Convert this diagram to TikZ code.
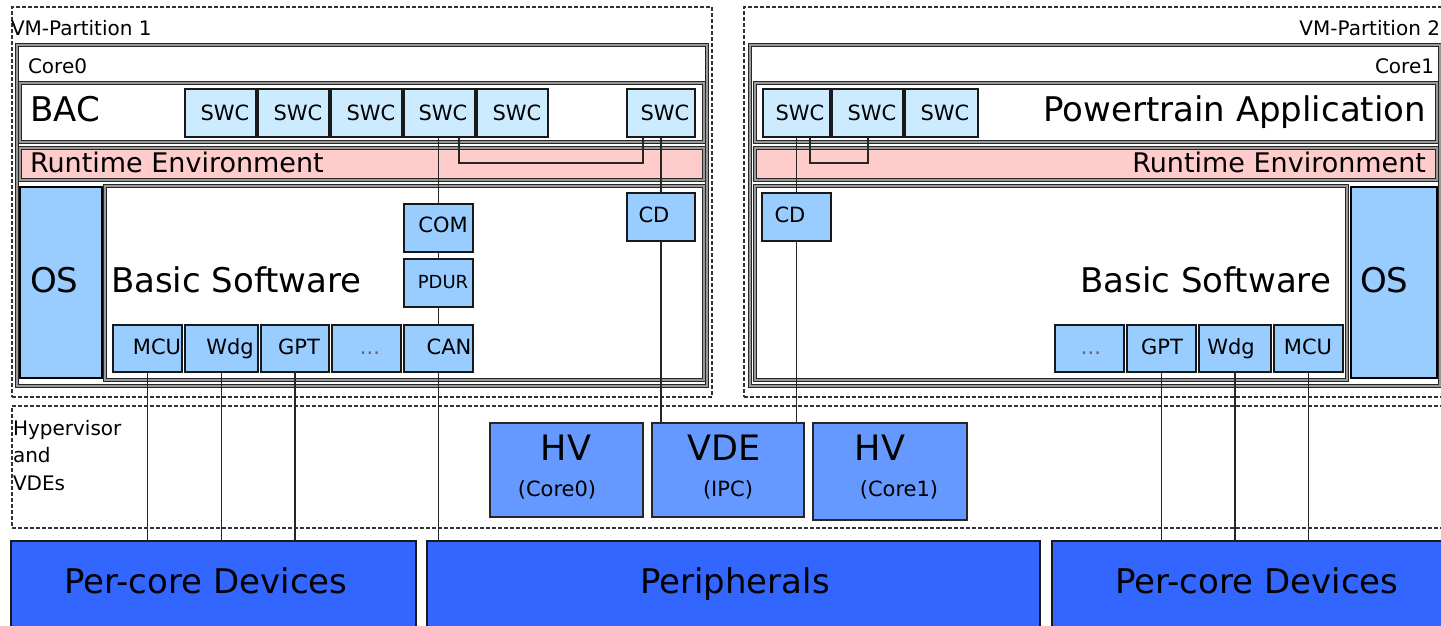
\documentclass[tikz,border=0pt]{standalone}
\usepackage{fontspec}
\setmainfont{DejaVu Sans}
\usetikzlibrary{fit,calc}

\definecolor{swcblue}{HTML}{CCEBFF}
\definecolor{bswblue}{HTML}{99CCFF}
\definecolor{hvblue}{HTML}{6699FF}
\definecolor{devblue}{HTML}{3366FF}
\definecolor{rtepink}{HTML}{FFCCCC}

\tikzset{
  every node/.style={inner sep=0pt, outer sep=0pt},
  partframe/.style={draw=black!80, line width=1pt, dash pattern=on 2pt off 1pt},
  ctr/.style={draw=black!85, line width=0.55pt, double=black!40, double distance=0.55pt, fill=white},
  rtebar/.style={ctr, fill=rtepink},
  swcbox/.style={draw=black!90, line width=1pt, fill=swcblue},
  bswbox/.style={draw=black!90, line width=1pt, fill=bswblue},
  osbox/.style={draw=black, line width=1.3pt, fill=bswblue},
  hvbox/.style={draw=black!85, line width=1pt, fill=hvblue},
  devbox/.style={draw=black!90, line width=0.8pt, fill=devblue},
  wire/.style={draw=black!85, line width=0.95pt},
  t-part/.style={font=\fontsize{10pt}{12pt}\selectfont},
  t-sm/.style={font=\fontsize{10.5pt}{12pt}\selectfont},
  t-pdur/.style={font=\fontsize{9pt}{11pt}\selectfont},
  t-rte/.style={font=\fontsize{13.5pt}{16pt}\selectfont},
  t-big/.style={font=\fontsize{17pt}{20pt}\selectfont},
  t-hv/.style={font=\fontsize{17.5pt}{20pt}\selectfont},
}

\begin{document}
\begin{tikzpicture}[x=0.5pt, y=-0.5pt]
\useasboundingbox (0,0) rectangle (1441,626);
\clip (0,0) rectangle (1441,626);
\fill[white] (0,0) rectangle (1441,626);

% ---------- partitions and hypervisor layer ----------
\node[partframe, fit={(12,7) (712,397)}] (vm1) {};
\node[partframe, fit={(744,7) (1450,397)}] (vm2) {};
\node[partframe, fit={(12,406) (1450,528)}] (hyp) {};

% ---------- core 0 ----------
\node[ctr, fit={(17,45) (707,386)}] (core0) {};
\node[ctr, fit={(20,83) (704,142)}] (bac) {};
\node[rtebar, fit={(20,148) (704,180)}] (rteL) {};
\node[ctr, fit={(105,186) (704,380)}] (bswL) {};
\node[osbox, fit={(20,187) (102,378)}] (osL) {};

\node[swcbox, fit={(185,89) (256,137)}] (swcL1) {};
\node[swcbox, fit={(258,89) (329,137)}] (swcL2) {};
\node[swcbox, fit={(331,89) (402,137)}] (swcL3) {};
\node[swcbox, fit={(404,89) (475,137)}] (swcL4) {};
\node[swcbox, fit={(477,89) (548,137)}] (swcL5) {};
\node[swcbox, fit={(627,89) (695,137)}] (swcL6) {};

\node[bswbox, fit={(404,204) (473,252)}] (comL) {};
\node[bswbox, fit={(404,259) (473,307)}] (pdurL) {};
\node[bswbox, fit={(627,193) (695,241)}] (cdL) {};
\node[bswbox, fit={(113,325) (182,372)}] (mcuL) {};
\node[bswbox, fit={(185,325) (258,372)}] (wdgL) {};
\node[bswbox, fit={(261,325) (329,372)}] (gptL) {};
\node[bswbox, fit={(332,325) (401,372)}] (dotsL) {};
\node[bswbox, fit={(404,325) (473,372)}] (canL) {};

% ---------- core 1 ----------
\node[ctr, fit={(750,45) (1440,386)}] (core1) {};
\node[ctr, fit={(755,83) (1437,142)}] (ptapp) {};
\node[rtebar, fit={(755,148) (1437,180)}] (rteR) {};
\node[ctr, fit={(755,186) (1347,380)}] (bswR) {};
\node[osbox, fit={(1351,187) (1437,378)}] (osR) {};

\node[swcbox, fit={(763,89) (830,137)}] (swcR1) {};
\node[swcbox, fit={(832,89) (903,137)}] (swcR2) {};
\node[swcbox, fit={(905,89) (978,137)}] (swcR3) {};

\node[bswbox, fit={(762,193) (831,241)}] (cdR) {};
\node[bswbox, fit={(1055,325) (1124,372)}] (dotsR) {};
\node[bswbox, fit={(1127,325) (1196,372)}] (gptR) {};
\node[bswbox, fit={(1199,325) (1271,372)}] (wdgR) {};
\node[bswbox, fit={(1274,325) (1343,372)}] (mcuR) {};

% ---------- hypervisor and devices ----------
\node[hvbox, fit={(490,423) (643,517)}] (hv0) {};
\node[hvbox, fit={(652,423) (804,517)}] (vde) {};
\node[hvbox, fit={(813,423) (967,520)}] (hv1) {};

\node[devbox, fit={(11,541) (416,640)}] (devL) {};
\node[devbox, fit={(427,541) (1040,640)}] (periph) {};
\node[devbox, fit={(1052,541) (1460,640)}] (devR) {};

% ---------- connectors ----------
\draw[wire] (swcL4.south -| comL.north) -- (comL.north);
\draw[wire] (comL.south) -- (pdurL.north);
\draw[wire] (pdurL.south) -- (canL.north);
\draw[wire] (canL.south) -- (canL.south |- periph.north);
\draw[wire] ($(swcL4.south west)+(55,0)$) -- ++(0,26) -| ($(swcL6.south west)+(16,0)$);
\draw[wire] (swcL6.south) -- (cdL.north);
\draw[wire] (cdL.south) -- (cdL.south |- vde.north);
\foreach \m in {mcuL, wdgL, gptL}
  \draw[wire] (\m.south) -- (\m.south |- devL.north);

\draw[wire] (swcR1.south) -- (cdR.north);
\draw[wire] (cdR.south) -- (cdR.south |- vde.north);
\draw[wire] ($(swcR1.south west)+(47,0)$) -- ++(0,26) -| ($(swcR2.south west)+(36,0)$);
\foreach \m in {gptR, wdgR, mcuR}
  \draw[wire] (\m.south) -- (\m.south |- devR.north);

% ---------- labels ----------
\node[t-part, anchor=base west] (vm1t) at (11,36) {VM-Partition 1};
\node[t-part, anchor=base east] (vm2t) at (1440,36) {VM-Partition 2};
\node[t-part, anchor=base west] (core0t) at (28,74) {Core0};
\node[t-part, anchor=base east] (core1t) at (1434,74) {Core1};

\node[t-big, anchor=base west] (bact) at (30,122) {BAC};
\node[t-big, anchor=base east] (ptappt) at (1426,122) {Powertrain Application};
\node[t-rte, anchor=base west] (rteLt) at (30,173) {Runtime Environment};
\node[t-rte, anchor=base east] (rteRt) at (1426,173) {Runtime Environment};
\node[t-big, anchor=base west] (osLt) at (30,292) {OS};
\node[t-big, anchor=base west] (osRt) at (1360,292) {OS};
\node[t-big, anchor=base west] (bswLt) at (111,292) {Basic Software};
\node[t-big, anchor=base east] (bswRt) at (1331,292) {Basic Software};

\foreach \n/\x in {swcL1/225, swcL2/298, swcL3/371, swcL4/443, swcL5/517, swcL6/665,
                   swcR1/800, swcR2/872, swcR3/945}
  \node[t-sm, anchor=base] (\n t) at (\x,120) {SWC};

\node[t-sm, anchor=base] (comLt) at (443,233) {COM};
\node[t-pdur, anchor=base] (pdurLt) at (443,288) {PDUR};
\node[t-sm, anchor=base] (cdLt) at (654,222) {CD};
\node[t-sm, anchor=base] (cdRt) at (790,222) {CD};

\node[t-sm, anchor=base] (mcuLt) at (157,354) {MCU};
\node[t-sm, anchor=base] (wdgLt) at (230,354) {Wdg};
\node[t-sm, anchor=base] (gptLt) at (299,354) {GPT};
\node[t-sm, anchor=base, text=black!60] (dotsLt) at (370,354) {...};
\node[t-sm, anchor=base] (canLt) at (449,354) {CAN};

\node[t-sm, anchor=base, text=black!60] (dotsRt) at (1091,354) {...};
\node[t-sm, anchor=base] (gptRt) at (1162,354) {GPT};
\node[t-sm, anchor=base] (wdgRt) at (1231,354) {Wdg};
\node[t-sm, anchor=base] (mcuRt) at (1308,354) {MCU};

\node[t-part, anchor=base west] (hypt1) at (13,435) {Hypervisor};
\node[t-part, anchor=base west] (hypt2) at (13,462) {and};
\node[t-part, anchor=base west] (hypt3) at (13,490) {VDEs};

\node[t-hv, anchor=base] (hv0t) at (566,460) {HV};
\node[t-sm, anchor=base] (hv0s) at (557,496) {(Core0)};
\node[t-hv, anchor=base] (vdet) at (724,460) {VDE};
\node[t-sm, anchor=base] (vdes) at (728,496) {(IPC)};
\node[t-hv, anchor=base] (hv1t) at (880,460) {HV};
\node[t-sm, anchor=base] (hv1s) at (899,496) {(Core1)};

\node[t-big, anchor=base] (devLt) at (206,593) {Per-core Devices};
\node[t-big, anchor=base] (periphT) at (735,593) {Peripherals};
\node[t-big, anchor=base] (devRt) at (1257,593) {Per-core Devices};
\end{tikzpicture}
\end{document}
